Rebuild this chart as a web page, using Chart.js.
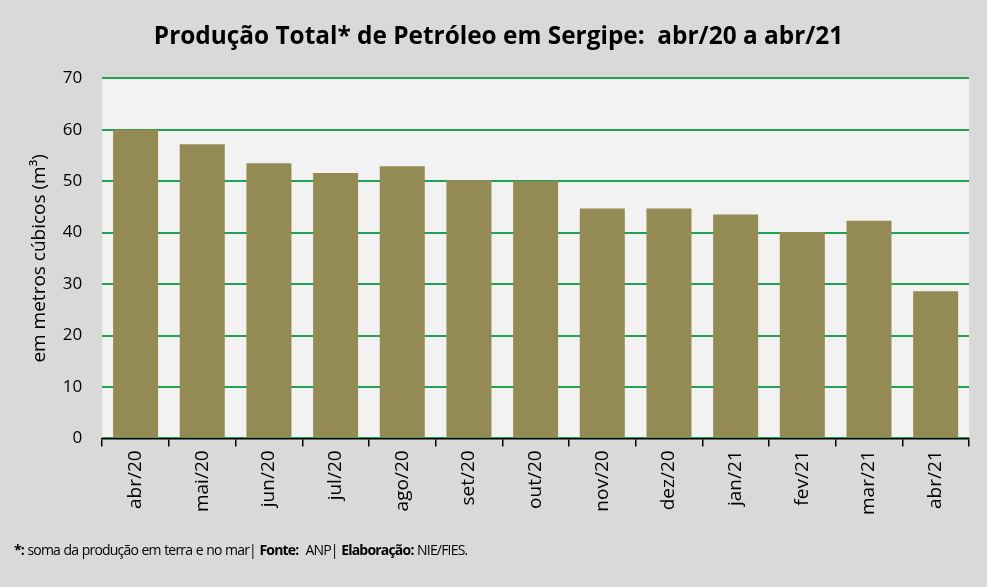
<!DOCTYPE html>
<html>
<head>
<meta charset="utf-8">
<script src="https://cdn.jsdelivr.net/npm/chart.js@4/dist/chart.umd.min.js"></script>
<style>
  html, body { margin: 0; padding: 0; background: #D9D9D9; }
  #wrap { position: relative; width: 987px; height: 587px; background: #D9D9D9; }
  #chartbox { position: absolute; left: 0; top: 0; width: 987px; height: 587px; }
  #nota {
    position: absolute; left: 14px; top: 540px;
    font-family: "Open Sans", sans-serif; font-size: 14px; color: #000;
    letter-spacing: -0.8px; word-spacing: 0.6px;
  }
  #nota b { font-weight: 700; }
</style>
</head>
<body>
<div id="wrap">
  <div id="chartbox"><canvas id="grafico"></canvas></div>
  <div id="nota"><b>*:</b> soma da produção em terra e no mar| <b>Fonte:</b>&nbsp; ANP| <b>Elaboração:</b> NIE/FIES.</div>
</div>
<script>
const meses = ['abr/20', 'mai/20', 'jun/20', 'jul/20', 'ago/20', 'set/20', 'out/20',
  'nov/20', 'dez/20', 'jan/21', 'fev/21', 'mar/21', 'abr/21'];
const producao = [60.0, 57.2, 53.5, 51.6, 52.9, 50.2, 50.0, 44.7, 44.7, 43.5, 40.1, 42.3, 28.6];
const yTicks = [0, 10, 20, 30, 40, 50, 60, 70];

// fundo cinza claro da área do gráfico
const fundoArea = {
  id: 'fundoArea',
  beforeDraw(chart) {
    const { ctx, chartArea: a } = chart;
    ctx.save();
    ctx.fillStyle = '#F2F2F2';
    ctx.fillRect(a.left, a.top, a.right - a.left, a.bottom - a.top);
    ctx.restore();
  }
};

new Chart(document.querySelector('#grafico'), {
  type: 'bar',
  data: {
    labels: meses,
    datasets: [{
      label: 'Produção',
      data: producao,
      backgroundColor: '#948A54',
      borderWidth: 0,
      barPercentage: 0.675,
      categoryPercentage: 1.0,
    }],
  },
  options: {
    responsive: true,
    maintainAspectRatio: false,
    animation: false,
    layout: { padding: { top: 22, left: 28, right: 18, bottom: 68 } },
    plugins: {
      legend: { display: false },
      tooltip: { enabled: false },
      title: {
        display: true,
        text: 'Produção Total* de Petróleo em Sergipe:  abr/20 a abr/21',
        color: '#000',
        font: { family: 'Open Sans', size: 24.4, weight: 'bold' },
        padding: { top: 0, bottom: 27 },
      },
    },
    scales: {
      x: {
        offset: true,
        grid: {
          offset: true,
          drawOnChartArea: false,
          drawTicks: true,
          tickLength: 8,
          color: '#000',
          lineWidth: 1.5,
        },
        border: { display: true, color: '#000', width: 1.5 },
        ticks: {
          color: '#000',
          minRotation: 90,
          maxRotation: 90,
          padding: 4,
          font: { family: 'Open Sans', size: 19 },
        },
      },
      y: {
        min: 0,
        max: 70,
        afterBuildTicks(axis) { axis.ticks = yTicks.map(v => ({ value: v })); },
        grid: { color: '#23A052', lineWidth: 2, drawTicks: false },
        border: { display: false },
        ticks: {
          color: '#000',
          padding: 20,
          font: { family: 'Open Sans', size: 17 },
        },
        title: {
          display: true,
          text: 'em metros cúbicos (m³)',
          color: '#000',
          padding: { top: 0, bottom: -8 },
          font: { family: 'Open Sans', size: 19 },
        },
      },
    },
  },
  plugins: [fundoArea],
});
</script>
</body>
</html>
